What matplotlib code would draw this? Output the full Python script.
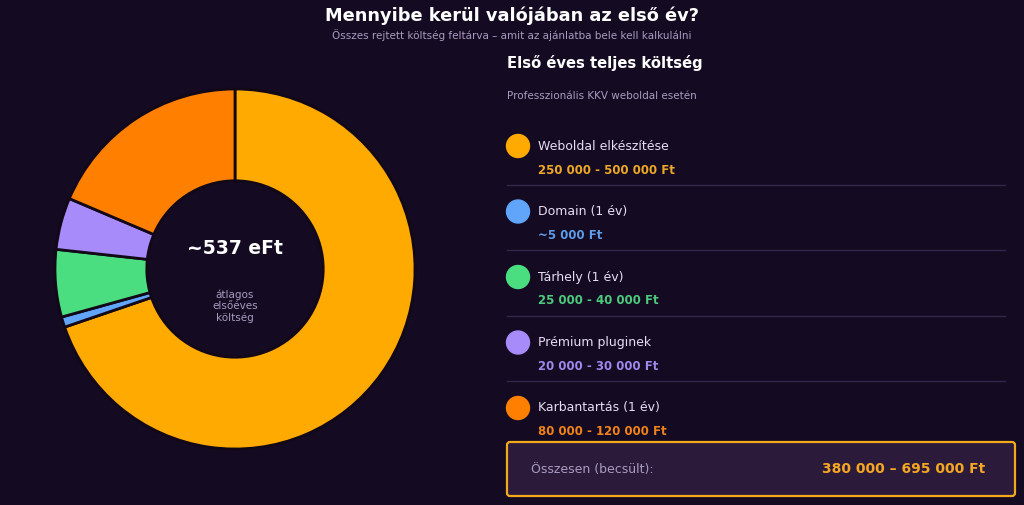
import matplotlib.pyplot as plt
from matplotlib.patches import Circle, FancyBboxPatch

# data
categories = ["Weboldal elkészítése", "Domain (1 év)", "Tárhely (1 év)",
              "Prémium pluginek", "Karbantartás (1 év)"]
avg_costs = [375000, 5000, 32500, 25000, 100000]
range_labels = ["250 000 - 500 000 Ft", "~5 000 Ft", "25 000 - 40 000 Ft",
                "20 000 - 30 000 Ft", "80 000 - 120 000 Ft"]
colors = ["#FFAA00", "#60A5FA", "#4ADE80", "#A78BFA", "#FF8000"]
value_colors = ["#EDA826", "#5E9BE8", "#4CCB7C", "#9E88EC", "#F0821A"]
total_label = "380 000 – 695 000 Ft"

BG = "#140a22"
MUTED = "#a99cc0"

fig = plt.figure(figsize=(10.24, 5.06), dpi=100, facecolor=BG)

# donut on the left
W, H = 1024, 506
cx, cy, size = 235, 270, 400
ax = fig.add_axes([(cx - size / 2) / W, (H - cy - size / 2) / H, size / W, size / H])
ax.set_facecolor(BG)
ax.pie(avg_costs, colors=colors, startangle=90, counterclock=False, radius=1,
       wedgeprops=dict(width=0.51, edgecolor="#120818", linewidth=2))
ax.set_xlim(-1.111, 1.111)
ax.set_ylim(-1.111, 1.111)
ax.set_aspect("equal")
ax.axis("off")
total_k = sum(avg_costs) // 1000
ax.text(0, 0.12, f"~{total_k} eFt", ha="center", va="center", color="white",
        fontsize=13.5, fontweight="bold")
ax.text(0, -0.2, "átlagos\nelsőéves\nköltség", ha="center", va="center",
        color=MUTED, fontsize=7.5, linespacing=1.15)

# overlay in pixel coordinates for texts and the legend panel
ov = fig.add_axes([0, 0, 1, 1], facecolor="none")
ov.set_xlim(0, W)
ov.set_ylim(H, 0)
ov.axis("off")

ov.text(512, 16, "Mennyibe kerül valójában az első év?", ha="center", va="center",
        color="white", fontsize=12.8, fontweight="bold")
ov.text(512, 35, "Összes rejtett költség feltárva – amit az ajánlatba bele kell kalkulálni",
        ha="center", va="center", color=MUTED, fontsize=7.5)

ov.text(507, 63, "Első éves teljes költség", ha="left", va="center",
        color="white", fontsize=10.6, fontweight="bold")
ov.text(507, 96, "Professzionális KKV weboldal esetén", ha="left", va="center",
        color=MUTED, fontsize=7.5)

y0, step = 147, 65.5
for i, (name, rng, col, vcol) in enumerate(zip(categories, range_labels, colors, value_colors)):
    y = y0 + i * step
    ov.add_patch(Circle((518, y), 11.5, color=col))
    ov.text(538, y - 1, name, ha="left", va="center", color="#e6def2", fontsize=9)
    ov.text(538, y + 23, rng, ha="left", va="center", color=vcol,
            fontsize=8.5, fontweight="bold")
    if i < len(categories) - 1:
        ov.plot([507, 1005], [y + 38.5, y + 38.5], color="#33284a", lw=1)

box = FancyBboxPatch((507, 443), 508, 54, boxstyle="round,pad=0,rounding_size=3",
                     facecolor="#2b1a3a", edgecolor="#F2AA1C", lw=1.6)
ov.add_patch(box)
ov.text(531, 470, "Összesen (becsült):", ha="left", va="center", color=MUTED, fontsize=9)
ov.text(985, 469, total_label, ha="right", va="center", color="#F5A623",
        fontsize=10, fontweight="bold")

fig.savefig("out.png", dpi=100, facecolor=BG)
